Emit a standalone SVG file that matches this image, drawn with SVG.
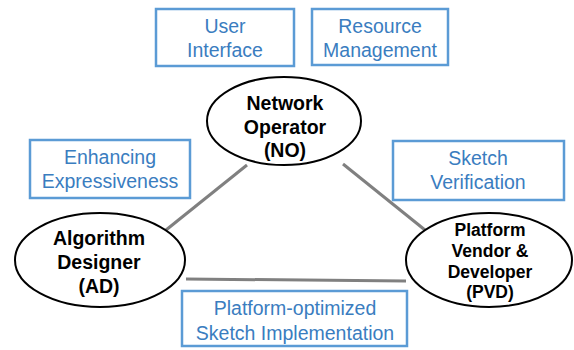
<svg xmlns="http://www.w3.org/2000/svg" width="574" height="350" viewBox="0 0 574 350">
<style>
.box{fill:#fff;stroke:#5b9bd5;stroke-width:2.5}
.bt{font-family:"Liberation Sans",Arial,sans-serif;font-size:19.5px;fill:#3a7dbf;text-anchor:middle}
.ell{fill:#fff;stroke:#000;stroke-width:2}
.nt{font-family:"Liberation Sans",Arial,sans-serif;font-weight:bold;font-size:19.5px;fill:#000;text-anchor:middle}
.pv{font-size:17.5px}
.edge{stroke:#808080;stroke-width:3;fill:none}
</style>
<rect width="574" height="350" fill="#fff"/>
<g id="connectors">
<line class="edge" x1="247" y1="165" x2="166" y2="230"/>
<line class="edge" x1="343" y1="164" x2="425" y2="230"/>
<line class="edge" x1="186" y1="279" x2="406" y2="281"/>
</g>
<g id="user-interface">
<rect class="box" x="156" y="9" width="138" height="57"/>
<text class="bt" x="225" y="33">User</text>
<text class="bt" x="225" y="57">Interface</text>
</g>
<g id="resource-management">
<rect class="box" x="312" y="9" width="136" height="56"/>
<text class="bt" x="380" y="33">Resource</text>
<text class="bt" x="380" y="57">Management</text>
</g>
<g id="enhancing-expressiveness">
<rect class="box" x="30" y="140" width="160" height="58"/>
<text class="bt" x="110" y="164">Enhancing</text>
<text class="bt" x="110" y="188">Expressiveness</text>
</g>
<g id="sketch-verification">
<rect class="box" x="393" y="141" width="171" height="59"/>
<text class="bt" x="478" y="165">Sketch</text>
<text class="bt" x="478" y="189">Verification</text>
</g>
<g id="platform-optimized">
<rect class="box" x="182" y="291" width="225" height="55"/>
<text class="bt" x="295" y="315">Platform-optimized</text>
<text class="bt" x="295" y="340">Sketch Implementation</text>
</g>
<g id="network-operator">
<ellipse class="ell" cx="284" cy="121" rx="77" ry="44"/>
<text class="nt" x="285" y="110">Network</text>
<text class="nt" x="285" y="134">Operator</text>
<text class="nt" x="285" y="157">(NO)</text>
</g>
<g id="algorithm-designer">
<ellipse class="ell" cx="100" cy="260" rx="85" ry="47"/>
<text class="nt" x="99" y="245">Algorithm</text>
<text class="nt" x="99" y="269">Designer</text>
<text class="nt" x="99" y="293">(AD)</text>
</g>
<g id="platform-vendor">
<ellipse class="ell" cx="489" cy="260" rx="83" ry="47"/>
<text class="nt pv" x="490" y="236">Platform</text>
<text class="nt pv" x="490" y="257">Vendor &amp;</text>
<text class="nt pv" x="490" y="278">Developer</text>
<text class="nt pv" x="490" y="298">(PVD)</text>
</g>
</svg>
